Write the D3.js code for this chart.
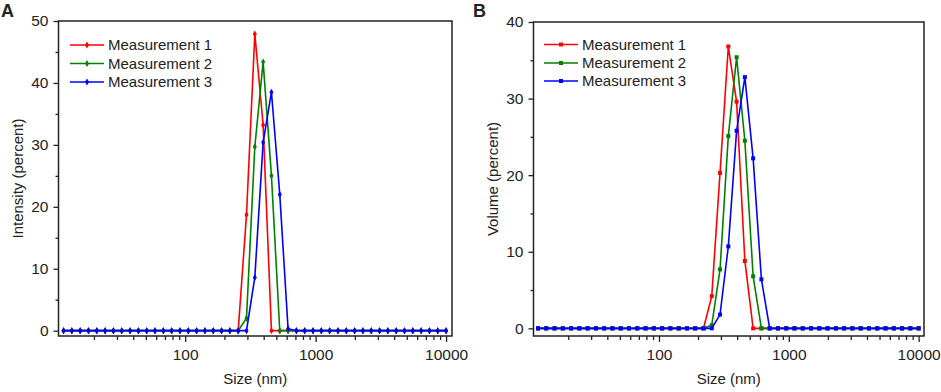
<!DOCTYPE html>
<html>
<head>
<meta charset="utf-8">
<script src="https://cdn.jsdelivr.net/npm/d3@7"></script>
<style>
    body { margin: 0; background: #fff; }
    svg text { font-family: "Liberation Sans", Arial, sans-serif; fill: #222; }
</style>
</head>
<body>
<div id="chart"></div>
<script>
// size bins (nm)
var sizes = [
    11.7, 13.54, 15.69, 18.17, 21.04, 24.36, 28.21, 32.67, 37.84, 43.82,
    50.75, 58.77, 68.06, 78.82, 91.28, 105.7, 122.4, 141.8, 164.2, 190.1,
    220.2, 255.0, 295.3, 342.0, 396.1, 458.7, 531.2, 615.1, 712.4, 825.0,
    955.4, 1106, 1281, 1484, 1718, 1990, 2305, 2669, 3091, 3580,
    4145, 4801, 5560, 6439, 7456, 8635, 10000
];

var seriesNames = ["Measurement 1", "Measurement 2", "Measurement 3"];
var seriesColors = ["#ff0000", "#008000", "#0000ff"];

var intensity1 = [
    0, 0, 0, 0, 0, 0, 0, 0, 0, 0,
    0, 0, 0, 0, 0, 0, 0, 0, 0, 0,
    0, 0, 18.7, 47.9, 33.2, 0, 0, 0, 0, 0,
    0, 0, 0, 0, 0, 0, 0, 0, 0, 0,
    0, 0, 0, 0, 0, 0, 0
];
var intensity2 = [
    0, 0, 0, 0, 0, 0, 0, 0, 0, 0,
    0, 0, 0, 0, 0, 0, 0, 0, 0, 0,
    0, 0, 2.0, 29.7, 43.4, 25.0, 0, 0, 0, 0,
    0, 0, 0, 0, 0, 0, 0, 0, 0, 0,
    0, 0, 0, 0, 0, 0, 0
];
var intensity3 = [
    0, 0, 0, 0, 0, 0, 0, 0, 0, 0,
    0, 0, 0, 0, 0, 0, 0, 0, 0, 0,
    0, 0, 0, 8.6, 30.4, 38.5, 22.0, 0.3, 0, 0,
    0, 0, 0, 0, 0, 0, 0, 0, 0, 0,
    0, 0, 0, 0, 0, 0, 0
];

var volume1 = [
    0, 0, 0, 0, 0, 0, 0, 0, 0, 0,
    0, 0, 0, 0, 0, 0, 0, 0, 0, 0,
    0, 4.2, 20.3, 36.8, 29.6, 8.8, 0, 0, 0, 0,
    0, 0, 0, 0, 0, 0, 0, 0, 0, 0,
    0, 0, 0, 0, 0, 0, 0
];
var volume2 = [
    0, 0, 0, 0, 0, 0, 0, 0, 0, 0,
    0, 0, 0, 0, 0, 0, 0, 0, 0, 0,
    0, 0.4, 7.7, 25.1, 35.4, 24.5, 6.8, 0, 0, 0,
    0, 0, 0, 0, 0, 0, 0, 0, 0, 0,
    0, 0, 0, 0, 0, 0, 0
];
var volume3 = [
    0, 0, 0, 0, 0, 0, 0, 0, 0, 0,
    0, 0, 0, 0, 0, 0, 0, 0, 0, 0,
    0, 0, 1.8, 10.7, 25.8, 32.8, 22.2, 6.4, 0, 0,
    0, 0, 0, 0, 0, 0, 0, 0, 0, 0,
    0, 0, 0, 0, 0, 0, 0
];

var xMajor = [100, 1000, 10000];
var xMinor = [20, 30, 40, 50, 60, 70, 80, 90, 200, 300, 400, 500, 600, 700, 800, 900,
              2000, 3000, 4000, 5000, 6000, 7000, 8000, 9000];

function drawPanel(svg, opt) {
    var xscale = d3.scaleLog()
                .domain(opt.xDomain)
                .range([opt.left, opt.right]);
    var yscale = d3.scaleLinear()
                .domain(opt.yDomain)
                .range([opt.bottom, opt.top]);

    var g = svg.append("g");

    // minor ticks
    g.append("g")
        .attr("transform", "translate(0," + opt.bottom + ")")
        .call(d3.axisBottom(xscale).tickValues(xMinor).tickSize(4).tickFormat(""));
    g.append("g")
        .attr("transform", "translate(0," + opt.bottom + ")")
        .call(d3.axisBottom(xscale).tickValues(xMajor).tickSize(6).tickPadding(7)
              .tickFormat(d3.format("d")));
    g.append("g")
        .attr("transform", "translate(" + opt.left + ",0)")
        .call(d3.axisLeft(yscale).tickValues(opt.yMinor).tickSize(3).tickFormat(""));
    g.append("g")
        .attr("transform", "translate(" + opt.left + ",0)")
        .call(d3.axisLeft(yscale).tickValues(opt.yMajor).tickSize(5).tickPadding(5));

    g.selectAll(".domain").remove();
    g.selectAll(".tick line").attr("stroke", "#222").attr("stroke-width", 1.3);
    g.selectAll(".tick text").style("font-size", "15.5px").attr("fill", "#222");

    // frame
    svg.append("rect")
        .attr("x", opt.left)
        .attr("y", opt.top)
        .attr("width", opt.right - opt.left)
        .attr("height", opt.bottom - opt.top)
        .attr("fill", "none")
        .attr("stroke", "#222")
        .attr("stroke-width", 1.5);

    var line = d3.line()
                .x(function(d) { return xscale(d[0]); })
                .y(function(d) { return yscale(d[1]); });

    opt.series.forEach(function(values, k) {
        var pts = sizes.map(function(s, i) { return [s, values[i]]; });
        svg.append("path")
            .datum(pts)
            .attr("d", line)
            .attr("fill", "none")
            .attr("stroke", seriesColors[k])
            .attr("stroke-width", 1.6);
        svg.selectAll(null)
            .data(pts)
            .enter()
            .append("path")
            .attr("d", d3.symbol().type(opt.symbol).size(opt.symbolSize))
            .attr("transform", function(d) {
                return "translate(" + xscale(d[0]) + "," + yscale(d[1]) + ")";
            })
            .attr("fill", seriesColors[k]);
    });

    // legend
    seriesNames.forEach(function(name, k) {
        var ly = opt.legendY[k];
        svg.append("line")
            .attr("x1", opt.legendX)
            .attr("x2", opt.legendX + 34)
            .attr("y1", ly)
            .attr("y2", ly)
            .attr("stroke", seriesColors[k])
            .attr("stroke-width", 1.6);
        svg.append("path")
            .attr("d", d3.symbol().type(opt.symbol).size(opt.symbolSize))
            .attr("transform", "translate(" + (opt.legendX + 17) + "," + ly + ")")
            .attr("fill", seriesColors[k]);
        svg.append("text")
            .attr("x", opt.legendX + 38)
            .attr("y", ly)
            .attr("dy", "0.35em")
            .style("font-size", "15px")
            .text(name);
    });

    // axis titles
    svg.append("text")
        .attr("x", (opt.left + opt.right) / 2)
        .attr("y", 384)
        .attr("text-anchor", "middle")
        .style("font-size", "15px")
        .text("Size (nm)");

    svg.append("text")
        .attr("transform", "translate(" + opt.yTitleX + "," + ((opt.top + opt.bottom) / 2) + ") rotate(-90)")
        .attr("text-anchor", "middle")
        .style("font-size", "15px")
        .text(opt.yTitle);

    // panel letter
    svg.append("text")
        .attr("x", opt.letterX)
        .attr("y", 17)
        .style("font-size", "18px")
        .style("font-weight", "bold")
        .attr("fill", "#000")
        .text(opt.letter);
}

function init() {
    var w = 941;
    var h = 392;

    var svg = d3.select("#chart")
                .append("svg")
                .attr("width", w)
                .attr("height", h);

    drawPanel(svg, {
        left: 58.5, right: 452, top: 21, bottom: 336,
        xDomain: [10.7, 11100],
        yDomain: [-0.86, 50],
        yMajor: [0, 10, 20, 30, 40, 50],
        yMinor: [5, 15, 25, 35, 45],
        series: [intensity1, intensity2, intensity3],
        symbol: d3.symbolDiamond,
        symbolSize: 14,
        legendX: 70,
        legendY: [45, 63.5, 82],
        yTitle: "Intensity (percent)",
        yTitleX: 23,
        letter: "A",
        letterX: 1
    });

    drawPanel(svg, {
        left: 533.5, right: 924, top: 22, bottom: 336,
        xDomain: [10.8, 11000],
        yDomain: [-1.0, 40],
        yMajor: [0, 10, 20, 30, 40],
        yMinor: [5, 15, 25, 35],
        series: [volume1, volume2, volume3],
        symbol: d3.symbolSquare,
        symbolSize: 16,
        legendX: 544,
        legendY: [44.5, 63, 81],
        yTitle: "Volume (percent)",
        yTitleX: 498,
        letter: "B",
        letterX: 473
    });
}

window.onload = init;
</script>
</body>
</html>
